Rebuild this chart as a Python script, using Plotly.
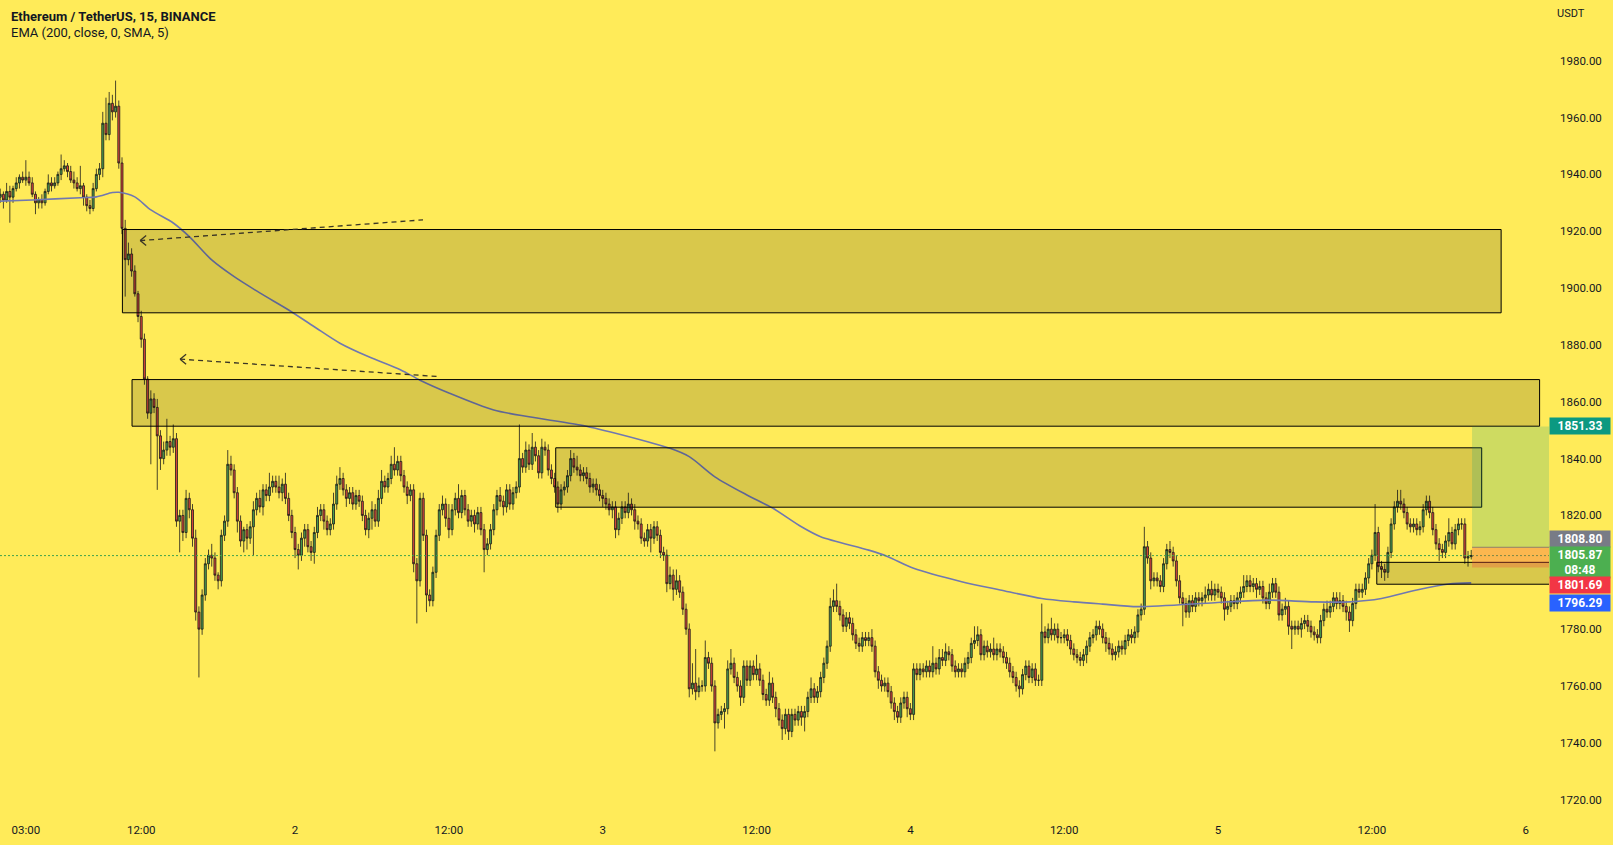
import pandas as pd
import plotly.graph_objects as go

# ---------------- data ----------------
start_time = "2023-06-01 01:00"
first_open = 1932

closes = [
    1933, 1931, 1934, 1932, 1935, 1937, 1939, 1938, 1939, 1937,
    1933, 1930, 1931, 1930, 1934, 1937, 1936, 1937, 1940, 1942,
    1943, 1941, 1938, 1937, 1935, 1936, 1932, 1929, 1928, 1935,
    1940, 1942, 1958, 1954, 1965, 1962, 1964, 1944, 1921, 1910,
    1912, 1906, 1898, 1890, 1882, 1868, 1856, 1861, 1858, 1848,
    1840, 1843, 1846, 1844, 1847, 1818, 1820, 1814, 1826, 1822,
    1812, 1786, 1780, 1792, 1803, 1806, 1805, 1799, 1797, 1813,
    1818, 1838, 1836, 1828, 1818, 1811, 1815, 1812, 1816, 1822,
    1826, 1823, 1829, 1827, 1830, 1832, 1830, 1828, 1831, 1826,
    1820, 1814, 1808, 1806, 1812, 1815, 1809, 1807, 1814, 1820,
    1822, 1818, 1815, 1817, 1824, 1831, 1833, 1829, 1826, 1828,
    1824, 1827, 1825, 1820, 1815, 1819, 1822, 1818, 1826, 1832,
    1830, 1833, 1838, 1836, 1839, 1834, 1830, 1827, 1829, 1803,
    1797, 1826, 1813, 1792, 1790, 1800, 1813, 1822, 1824, 1819,
    1815, 1822, 1826, 1821, 1827, 1822, 1818, 1820, 1817, 1821,
    1815, 1808, 1810, 1815, 1822, 1827, 1825, 1823, 1829, 1824,
    1828, 1830, 1840, 1837, 1843, 1838, 1844, 1841, 1835, 1844,
    1843, 1836, 1833, 1830, 1824, 1829, 1830, 1834, 1840, 1837,
    1836, 1834, 1835, 1833, 1830, 1831, 1829, 1827, 1826, 1824,
    1822, 1823, 1815, 1819, 1823, 1821, 1824, 1822, 1818, 1817,
    1812, 1811, 1815, 1812, 1816, 1813, 1807, 1806, 1796, 1799,
    1794, 1797, 1793, 1787, 1780, 1759, 1761, 1758, 1760, 1760,
    1770, 1768, 1760, 1747, 1750, 1751, 1752, 1766, 1768, 1763,
    1760, 1756, 1767, 1762, 1767, 1764, 1766, 1762, 1757, 1755,
    1761, 1756, 1752, 1748, 1745, 1750, 1744, 1750, 1748, 1751,
    1749, 1751, 1756, 1759, 1756, 1758, 1763, 1768, 1774, 1788,
    1790, 1788, 1785, 1781, 1784, 1782, 1778, 1775, 1774, 1777,
    1776, 1777, 1774, 1765, 1762, 1760, 1761, 1758, 1754, 1751,
    1749, 1754, 1756, 1752, 1750, 1766, 1764, 1766, 1765, 1767,
    1765, 1768, 1766, 1770, 1769, 1772, 1771, 1767, 1765, 1766,
    1765, 1768, 1770, 1775, 1776, 1778, 1771, 1774, 1772, 1773,
    1771, 1773, 1772, 1770, 1768, 1765, 1763, 1760, 1759, 1764,
    1767, 1763, 1766, 1762, 1762, 1779, 1777, 1780, 1778, 1780,
    1777, 1777, 1778, 1776, 1773, 1771, 1770, 1769, 1771, 1774,
    1777, 1778, 1781, 1780, 1777, 1775, 1773, 1771, 1772, 1774,
    1773, 1776, 1778, 1777, 1779, 1785, 1787, 1809, 1805, 1797,
    1798, 1797, 1795, 1803, 1808, 1807, 1804, 1797, 1791, 1789,
    1786, 1790, 1788, 1791, 1790, 1791, 1792, 1794, 1792, 1794,
    1793, 1791, 1787, 1788, 1790, 1789, 1791, 1793, 1795, 1797,
    1795, 1796, 1794, 1795, 1791, 1789, 1793, 1796, 1793, 1785,
    1787, 1788, 1781, 1780, 1781, 1780, 1782, 1783, 1781, 1779,
    1778, 1777, 1783, 1787, 1786, 1788, 1791, 1789, 1790, 1788,
    1786, 1783, 1789, 1794, 1793, 1794, 1798, 1803, 1806, 1814,
    1802, 1801, 1800, 1807, 1817, 1823, 1825, 1824, 1821, 1817,
    1816, 1817, 1815, 1816, 1822, 1825, 1821, 1815, 1810, 1808,
    1807, 1811, 1814, 1810, 1815, 1817, 1817, 1805, 1805.5, 1805.87,
]

upper_wicks = [
    2, 1, 3, 2, 1, 2, 1, 2, 6, 2,
    2, 1, 1, 2, 1, 3, 2, 2, 1, 5,
    2, 1, 2, 3, 2, 7, 1, 1, 2, 2,
    2, 2, 4, 9, 4, 3, 9, 2, 2, 3,
    4, 2, 2, 1, 2, 2, 1, 3, 2, 3,
    2, 3, 8, 2, 5, 2, 2, 2, 3, 2,
    2, 3, 2, 2, 2, 2, 4, 2, 1, 2,
    2, 5, 3, 2, 2, 2, 1, 2, 2, 3,
    2, 3, 2, 2, 5, 2, 2, 4, 2, 4,
    2, 2, 2, 2, 2, 2, 2, 2, 2, 3,
    2, 2, 2, 2, 4, 3, 4, 2, 2, 2,
    2, 2, 2, 2, 2, 2, 3, 2, 3, 4,
    2, 2, 3, 6, 2, 2, 2, 2, 2, 2,
    2, 2, 2, 2, 2, 2, 2, 2, 3, 2,
    5, 2, 2, 5, 2, 2, 2, 2, 2, 2,
    2, 2, 2, 2, 2, 2, 3, 2, 2, 2,
    2, 2, 12, 2, 3, 2, 5, 2, 2, 3,
    2, 2, 2, 2, 2, 2, 2, 2, 3, 2,
    4, 2, 2, 2, 2, 2, 2, 2, 2, 2,
    2, 2, 2, 2, 2, 2, 4, 2, 2, 2,
    2, 2, 2, 2, 2, 2, 2, 2, 2, 3,
    2, 4, 2, 2, 2, 2, 7, 12, 3, 2,
    6, 2, 2, 2, 2, 2, 2, 3, 5, 2,
    2, 2, 2, 2, 2, 2, 5, 2, 2, 2,
    4, 2, 2, 2, 2, 2, 2, 2, 2, 2,
    2, 2, 2, 4, 2, 2, 2, 2, 2, 3,
    4, 6, 2, 2, 2, 2, 2, 2, 2, 2,
    2, 2, 3, 2, 2, 2, 2, 2, 2, 2,
    2, 2, 2, 2, 2, 2, 2, 2, 2, 2,
    2, 6, 2, 3, 3, 3, 2, 2, 2, 2,
    2, 2, 2, 2, 5, 3, 2, 2, 2, 2,
    4, 2, 2, 2, 2, 2, 2, 2, 2, 2,
    2, 2, 2, 2, 2, 10, 2, 2, 4, 2,
    2, 2, 2, 2, 2, 2, 2, 2, 2, 2,
    2, 2, 2, 2, 2, 2, 2, 2, 2, 2,
    2, 2, 2, 2, 2, 2, 2, 7, 2, 2,
    2, 2, 2, 2, 2, 3, 2, 2, 2, 2,
    2, 2, 2, 2, 2, 2, 3, 2, 3, 2,
    2, 2, 2, 2, 2, 2, 2, 2, 4, 2,
    2, 2, 2, 2, 2, 2, 3, 2, 2, 2,
    2, 3, 2, 2, 2, 2, 2, 2, 2, 2,
    2, 2, 2, 2, 3, 2, 2, 2, 3, 2,
    2, 2, 2, 2, 2, 2, 2, 2, 2, 10,
    2, 2, 2, 2, 2, 2, 4, 4, 2, 2,
    2, 2, 2, 2, 2, 2, 2, 2, 2, 2,
    2, 2, 5, 2, 2, 2, 2, 2, 2, 2,
]

lower_wicks = [
    2, 3, 1, 9, 2, 1, 2, 1, 2, 1,
    1, 4, 2, 2, 1, 1, 2, 1, 1, 2,
    1, 2, 1, 2, 1, 2, 3, 2, 2, 1,
    1, 2, 3, 2, 2, 3, 2, 2, 2, 13,
    2, 2, 1, 2, 3, 2, 2, 18, 2, 19,
    4, 2, 2, 3, 2, 2, 11, 3, 2, 3,
    3, 3, 17, 2, 2, 2, 3, 2, 3, 2,
    2, 2, 2, 2, 4, 2, 4, 4, 2, 10,
    2, 2, 3, 2, 2, 2, 2, 2, 3, 2,
    2, 2, 3, 5, 2, 3, 2, 3, 4, 2,
    2, 3, 2, 2, 2, 2, 2, 2, 3, 2,
    2, 2, 2, 2, 2, 3, 4, 2, 2, 2,
    2, 2, 2, 2, 2, 2, 2, 3, 2, 3,
    15, 2, 2, 6, 2, 2, 2, 2, 2, 3,
    3, 2, 2, 2, 2, 2, 2, 2, 3, 2,
    2, 8, 2, 2, 2, 2, 2, 3, 2, 2,
    2, 2, 2, 2, 2, 2, 2, 2, 2, 2,
    2, 2, 2, 2, 3, 2, 2, 2, 2, 2,
    2, 2, 2, 2, 2, 2, 2, 2, 3, 2,
    2, 3, 3, 2, 2, 2, 2, 2, 3, 2,
    2, 2, 2, 5, 2, 2, 2, 2, 3, 2,
    4, 2, 2, 2, 2, 3, 2, 3, 2, 2,
    2, 2, 2, 10, 2, 2, 6, 2, 2, 2,
    2, 3, 2, 2, 2, 2, 2, 2, 2, 2,
    2, 2, 3, 2, 4, 2, 3, 2, 2, 2,
    3, 5, 2, 2, 2, 2, 2, 2, 2, 2,
    2, 2, 2, 2, 2, 2, 2, 2, 2, 2,
    2, 2, 2, 2, 3, 2, 2, 2, 2, 3,
    2, 2, 2, 3, 2, 2, 2, 2, 2, 2,
    2, 2, 2, 2, 2, 2, 2, 2, 2, 2,
    2, 2, 2, 2, 2, 2, 2, 2, 2, 2,
    2, 2, 2, 2, 2, 2, 2, 2, 3, 2,
    2, 2, 2, 2, 2, 2, 2, 2, 2, 2,
    2, 2, 2, 2, 2, 2, 2, 2, 2, 3,
    2, 2, 2, 2, 2, 3, 2, 2, 2, 2,
    2, 2, 2, 2, 2, 2, 2, 2, 2, 3,
    2, 2, 2, 2, 2, 2, 2, 2, 2, 8,
    2, 2, 2, 2, 2, 2, 2, 2, 2, 2,
    2, 2, 4, 2, 2, 2, 2, 2, 2, 2,
    2, 2, 3, 2, 2, 2, 2, 2, 2, 2,
    2, 2, 3, 7, 2, 2, 3, 2, 2, 2,
    2, 2, 2, 2, 2, 2, 2, 2, 2, 2,
    3, 4, 2, 2, 2, 2, 2, 2, 2, 2,
    2, 3, 3, 2, 2, 2, 2, 2, 2, 2,
    2, 2, 2, 2, 2, 2, 2, 2, 2, 4,
    2, 2, 2, 2, 2, 2, 2, 2, 3, 1,
]

# EMA(200) read at selected candles (candle index, value)
ema_index = [0, 10, 25, 30, 35, 37, 42, 47, 54, 59, 66, 73, 81, 90, 98, 106, 115,
             125, 131, 140, 154, 165, 181, 192, 202, 209, 215, 223, 233, 241, 250,
             256, 271, 277, 285, 300, 312, 325, 335, 344, 355, 379, 395, 410, 421,
             431, 442, 452, 459]
ema_values = [1930.6, 1931.0, 1931.8, 1932.1, 1933.6, 1933.7, 1932.1, 1927.5, 1922.9,
              1918.1, 1909.9, 1904.0, 1898.3, 1892.3, 1886.4, 1880.6, 1875.8, 1871.2,
              1867.6, 1863.1, 1857.1, 1854.7, 1851.8, 1848.9, 1845.9, 1843.6, 1840.7,
              1833.6, 1827.2, 1822.6, 1816.0, 1812.5, 1807.8, 1805.5, 1801.4, 1796.7,
              1793.8, 1790.8, 1789.6, 1788.8, 1787.9, 1789.3, 1790.2, 1789.6, 1789.6,
              1790.8, 1793.8, 1795.9, 1796.29]

# drawn zones: (start, end, top, bottom)
zone_starts = ["2023-06-01 10:32", "2023-06-01 11:17", "2023-06-02 20:20", "2023-06-05 12:23"]
zone_ends = ["2023-06-05 22:05", "2023-06-06 01:05", "2023-06-05 20:34", "2023-06-06 03:00"]
zone_tops = [1920.6, 1867.8, 1843.8, 1803.5]
zone_bottoms = [1891.3, 1851.4, 1822.9, 1795.8]

# position tool
pos_start = "2023-06-05 19:49"
pos_end = "2023-06-06 03:00"
take_profit = 1851.33
entry_price = 1808.80
stop_loss = 1801.69
last_price = 1805.87
ema_last = 1796.29
countdown = "08:48"

# dashed arrows: (tail time, tail price, tip time, tip price)
arrow_tails_t = ["2023-06-02 09:59", "2023-06-02 11:05"]
arrow_tails_p = [1924.0, 1868.9]
arrow_tips_t = ["2023-06-01 11:55", "2023-06-01 15:02"]
arrow_tips_p = [1916.7, 1875.0]

x_tick_vals = ["2023-06-01 03:00", "2023-06-01 12:00", "2023-06-02 00:00", "2023-06-02 12:00",
               "2023-06-03 00:00", "2023-06-03 12:00", "2023-06-04 00:00", "2023-06-04 12:00",
               "2023-06-05 00:00", "2023-06-05 12:00", "2023-06-06 00:00"]
x_tick_text = ["03:00", "12:00", "2", "12:00", "3", "12:00", "4", "12:00", "5", "12:00", "6"]
y_tick_vals = [1720, 1740, 1760, 1780, 1820, 1840, 1860, 1880, 1900, 1920, 1940, 1960, 1980]

x_range = ["2023-06-01 00:59", "2023-06-06 01:49"]
y_range = [1714.6, 2001.36]

# ---------------- styling ----------------
BG = "#ffeb59"
TXT = "#131722"
GREEN = "#4a9e4f"
RED = "#d9463b"
FONT = "Roboto, Arial, sans-serif"

n = len(closes)
times = pd.date_range(start_time, periods=n, freq="15min")
opens = [first_open] + closes[:-1]
highs = [max(o, c) + u for o, c, u in zip(opens, closes, upper_wicks)]
lows = [min(o, c) - l for o, c, l in zip(opens, closes, lower_wicks)]

fig = go.Figure()
fig.add_trace(go.Candlestick(
    x=times, open=opens, high=highs, low=lows, close=closes,
    increasing=dict(line=dict(color="#1a1a1a", width=0.8), fillcolor=GREEN),
    decreasing=dict(line=dict(color="#1a1a1a", width=0.8), fillcolor=RED),
    whiskerwidth=0, hoverinfo="skip", showlegend=False,
))
fig.add_trace(go.Scatter(
    x=[times[i] for i in ema_index], y=ema_values, mode="lines",
    line=dict(color="#7078b0", width=1.6, shape="spline", smoothing=0.8),
    hoverinfo="skip", showlegend=False,
))

shapes = []
# current price dotted line
shapes.append(dict(type="line", xref="paper", x0=0, x1=1, yref="y", y0=last_price, y1=last_price,
                   line=dict(color="#3fa34d", width=1, dash="2px,2px"), layer="above"))
# zones
for s, e, t, b in zip(zone_starts, zone_ends, zone_tops, zone_bottoms):
    shapes.append(dict(type="rect", xref="x", yref="y", x0=s, x1=e, y0=b, y1=t,
                       fillcolor="rgba(0,0,0,0.15)", line=dict(color="#000000", width=1),
                       layer="above"))
# position tool
shapes.append(dict(type="rect", xref="x", yref="y", x0=pos_start, x1=pos_end,
                   y0=entry_price, y1=take_profit, fillcolor="rgba(8,153,129,0.2)",
                   line=dict(width=0), layer="above"))
shapes.append(dict(type="rect", xref="x", yref="y", x0=pos_start, x1=pos_end,
                   y0=stop_loss, y1=entry_price, fillcolor="rgba(242,80,60,0.33)",
                   line=dict(width=0), layer="above"))
shapes.append(dict(type="line", xref="x", yref="y", x0=pos_start, x1=pos_end,
                   y0=entry_price, y1=entry_price, line=dict(color="rgba(120,110,110,0.8)", width=1),
                   layer="above"))
# dashed arrows with open chevron heads
for tt, tp, ht, hp in zip(arrow_tails_t, arrow_tails_p, arrow_tips_t, arrow_tips_p):
    shapes.append(dict(type="line", xref="x", yref="y", x0=ht, y0=hp, x1=tt, y1=tp,
                       line=dict(color="#3a3526", width=1.3, dash="5px,4px"), layer="above"))
    for dy in (5, -5):
        shapes.append(dict(type="line", xref="x", yref="y", xsizemode="pixel", ysizemode="pixel",
                           xanchor=ht, yanchor=hp, x0=0, y0=0, x1=6, y1=dy,
                           line=dict(color="#3a3526", width=1.3), layer="above"))

annotations = [
    dict(xref="paper", yref="paper", x=9 / 1549, y=1 - 16.5 / 815, xanchor="left", yanchor="middle",
         text="<b>Ethereum / TetherUS, 15, BINANCE</b>", showarrow=False,
         font=dict(family=FONT, size=13, color=TXT)),
    dict(xref="paper", yref="paper", x=9 / 1549, y=1 - 33 / 815, xanchor="left", yanchor="middle",
         text="EMA (200, close, 0, SMA, 5)", showarrow=False,
         font=dict(family=FONT, size=13, color=TXT)),
    dict(xref="paper", yref="paper", x=1571 / 1549, y=1 - 13.4 / 815, xanchor="center", yanchor="middle",
         text="USDT", showarrow=False, font=dict(family=FONT, size=11, color=TXT)),
]

price_labels = [
    (take_profit, f"{take_profit:.2f}", "#0b9981", 0),
    (entry_price, f"{entry_price:.2f}", "#787b86", 8.5),
    (last_price, f"{last_price:.2f}<br>{countdown}", "#4caf50", -6.5),
    (stop_loss, f"{stop_loss:.2f}", "#f23645", -18),
    (ema_last, f"{ema_last:.2f}", "#2962ff", -20),
]
for val, txt, col, ys in price_labels:
    two = "<br>" in txt
    annotations.append(dict(
        xref="paper", yref="y", x=1, y=val, xanchor="left", yanchor="middle", yshift=ys,
        text=f"<b>{txt}</b>", showarrow=False, bgcolor=col, width=57, height=28 if two else 13,
        borderpad=1.5, align="center", font=dict(family=FONT, size=12, color="#ffffff"),
    ))

fig.update_layout(
    width=1613, height=845, margin=dict(l=0, r=64, t=0, b=30),
    paper_bgcolor=BG, plot_bgcolor=BG, showlegend=False, boxgap=0.12,
    shapes=shapes, annotations=annotations,
    xaxis=dict(type="date", range=x_range, rangeslider=dict(visible=False), showgrid=False,
               zeroline=False, showline=False, ticks="", tickvals=x_tick_vals, ticktext=x_tick_text,
               tickfont=dict(family=FONT, size=11.5, color=TXT), ticklabelstandoff=6),
    yaxis=dict(side="right", range=y_range, showgrid=False, zeroline=False, showline=False,
               ticks="", tickvals=y_tick_vals, ticktext=[f"{v:.2f}" for v in y_tick_vals],
               tickfont=dict(family=FONT, size=11.5, color=TXT), ticklabelstandoff=10),
)

fig.write_html("out.html")
